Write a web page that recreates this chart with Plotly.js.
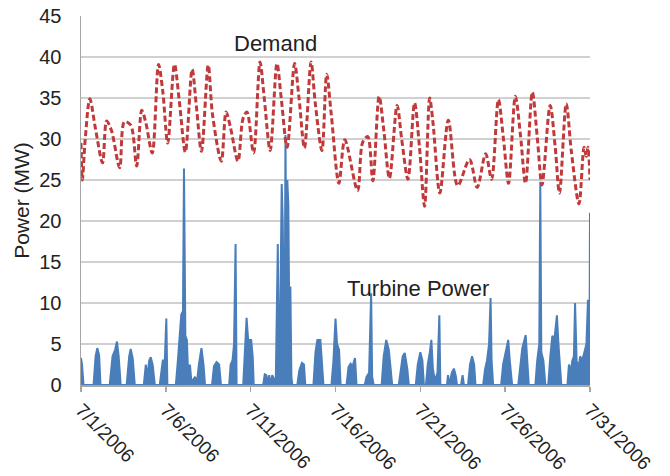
<!DOCTYPE html>
<html>
<head>
<meta charset="utf-8">
<script src="https://cdn.plot.ly/plotly-3.0.1.min.js"></script>
<style>html,body{margin:0;padding:0;background:#fff;}#chart{width:670px;height:476px;}</style>
</head>
<body>
<div id="chart"></div>
<script>
// Days elapsed since 7/1/2006 00:00
const demandDay = [0.00,0.08,0.25,0.52,0.85,1.27,1.51,1.80,2.28,2.56,2.93,3.28,3.58,3.82,4.20,4.57,4.82,5.11,5.51,5.80,6.15,6.55,6.80,7.10,7.50,7.75,8.27,8.55,8.80,9.25,9.55,9.78,10.17,10.55,10.80,11.15,11.55,11.80,12.15,12.59,12.85,13.17,13.56,13.80,14.20,14.48,14.75,15.20,15.55,16.30,16.60,16.90,17.20,17.57,17.85,18.18,18.63,18.90,19.27,19.66,19.95,20.25,20.55,20.75,21.15,21.65,22.20,22.90,23.35,23.85,24.20,24.60,24.90,25.20,25.60,25.90,26.20,26.60,26.90,27.17,27.65,27.95,28.20,28.60,28.90,29.35,29.65,29.78,29.88,30.00];
const demandMW = [29.5,25.0,30.0,34.9,31.3,27.1,32.2,31.0,26.5,32.1,31.7,26.7,33.5,32.0,28.3,39.1,35.8,29.5,39.1,34.5,28.4,38.5,34.0,28.5,39.0,33.0,27.3,33.3,31.5,27.3,32.5,33.3,28.3,39.4,35.0,28.6,39.2,35.0,29.0,39.2,35.0,28.9,39.4,34.5,28.6,37.9,33.0,24.6,29.9,23.7,29.6,30.3,24.9,35.2,31.0,25.2,34.1,30.0,25.1,34.4,29.0,21.8,35.0,31.9,23.4,32.3,24.3,27.5,24.1,28.2,25.1,34.8,30.0,24.6,35.2,30.5,24.6,35.7,30.0,24.4,34.1,29.0,23.4,34.3,28.5,22.1,29.0,27.9,29.0,25.0];

const turbineDay = [0.00,0.06,0.15,0.74,0.86,0.96,1.07,1.15,1.69,1.86,2.01,2.12,2.22,2.34,2.69,2.84,2.93,3.05,3.17,3.70,3.82,3.91,4.02,4.11,4.23,4.35,4.64,4.82,4.94,5.03,5.09,5.59,5.71,5.83,5.91,6.01,6.07,6.15,6.24,6.33,6.42,6.51,6.72,6.83,6.95,7.10,7.22,7.31,7.72,7.84,7.99,8.14,8.25,8.73,8.82,8.93,9.02,9.11,9.17,9.56,9.64,9.76,9.85,10.03,10.12,10.18,10.74,10.83,10.92,11.01,11.09,11.18,11.27,11.36,11.48,11.60,11.66,11.75,11.83,11.89,11.95,12.00,12.05,12.10,12.16,12.22,12.28,12.34,12.40,12.46,12.75,12.87,13.02,13.14,13.22,13.70,13.82,13.93,14.11,14.23,14.29,14.76,14.88,15.00,15.09,15.21,15.30,15.65,15.77,15.89,16.01,16.15,16.24,16.72,16.83,16.98,17.10,17.16,17.25,17.72,17.84,17.99,18.14,18.25,18.34,18.73,18.85,18.96,19.08,19.23,19.32,19.73,19.85,20.00,20.12,20.21,20.33,20.44,20.56,20.65,20.74,20.86,21.01,21.12,21.18,21.57,21.63,21.69,21.86,21.98,22.10,22.16,22.40,22.49,22.57,22.81,22.93,23.05,23.17,23.25,23.70,23.82,23.93,24.05,24.14,24.20,24.29,24.76,24.88,25.03,25.18,25.27,25.41,25.77,25.89,26.01,26.21,26.33,26.39,26.78,26.89,27.01,27.07,27.13,27.25,27.37,27.54,27.66,27.78,27.90,28.05,28.14,28.22,28.31,28.67,28.76,28.85,28.96,29.05,29.12,29.21,29.31,29.42,29.54,29.67,29.79,29.88,29.97,30.00];
const turbineMW = [3.3,2.5,0,0,3.5,4.5,3.6,0,0,3.5,4.3,5.3,3.5,0,0,3.5,4.4,3.2,0,0,2.5,1.0,3.0,3.4,2.4,0,0,3.0,3.0,8.1,0,0,3.0,6.5,8.6,9.0,26.4,6.0,5.5,0.5,2.5,0.3,1.0,0.2,2.5,4.5,2.5,0,0,2.3,2.8,2.5,0,0,2.5,3.0,5.0,17.2,0,0,4.0,8.2,5.5,5.5,3.5,0,0,1.3,1.2,0.2,1.2,0,1.2,0.8,0.5,17.2,3.0,10.0,24.5,20.0,8.0,2.0,30.5,15.0,25.0,22.0,7.0,12.0,1.0,0,0,1.8,2.7,2.5,0,0,4.0,5.5,5.5,2.0,0,0,3.0,8.1,5.0,4.3,0,0,2.2,2.6,2.3,3.3,0,0,1.0,1.5,11.2,1.0,0,0,3.5,5.5,4.3,2.0,0,0,2.0,3.5,3.9,2.0,0,0,2.5,4.0,3.0,0,0,2.5,4.0,5.5,2.0,0.5,1.5,8.5,0,0,1.2,0,1.5,2.0,1.0,0,0,1.2,0,0,2.5,3.5,2.5,0,0,2.0,3.0,5.0,10.6,3.0,0,0,2.5,4.0,5.5,3.0,0,0,2.5,4.5,6.1,2.0,0,0,3.0,5.0,24.8,4.0,3.0,0,0,3.5,6.0,5.5,8.5,5.0,2.0,0,0,2.5,1.5,3.0,3.5,10.0,3.0,2.0,3.5,3.0,4.0,5.0,10.4,4.0,21.0];

const tickDates = ['2006-07-01','2006-07-06','2006-07-11','2006-07-16','2006-07-21','2006-07-26','2006-07-31'];
const tickText = ['7/1/2006','7/6/2006','7/11/2006','7/16/2006','7/21/2006','7/26/2006','7/31/2006'];

const start = Date.UTC(2006, 6, 1);
function toDate(d) {
  return new Date(start + d * 86400000).toISOString().slice(0, 19).replace('T', ' ');
}

const font = 'Liberation Sans, Arial, sans-serif';

const traces = [
  {
    x: turbineDay.map(toDate), y: turbineMW, type: 'scatter', mode: 'lines',
    fill: 'tozeroy', fillcolor: '#4a7ebb',
    line: {color: '#4a7ebb', width: 2}, name: 'Turbine Power'
  },
  {
    x: demandDay.map(toDate), y: demandMW, type: 'scatter', mode: 'lines',
    line: {color: '#c0393b', width: 3, dash: '6px,3px', shape: 'spline', smoothing: 0.9},
    name: 'Demand'
  }
];

const layout = {
  width: 670, height: 476,
  margin: {l: 81, r: 80, t: 16, b: 91},
  showlegend: false,
  paper_bgcolor: '#fff', plot_bgcolor: '#fff',
  font: {family: font, size: 16, color: '#222'},
  xaxis: {
    type: 'date', range: ['2006-07-01', '2006-07-31'],
    tickvals: tickDates, ticktext: tickText, tickangle: 45,
    showgrid: false, zeroline: false,
    showline: true, linecolor: '#a6a6a6', linewidth: 1.5,
    ticks: 'outside', ticklen: 5, tickcolor: '#a6a6a6', tickwidth: 1.5,
    tickfont: {family: font, size: 19, color: '#222'}
  },
  yaxis: {
    range: [0, 45], dtick: 5, tick0: 0,
    showgrid: true, gridcolor: '#d0d0d0', gridwidth: 2,
    zeroline: false, showline: true, linecolor: '#a6a6a6', linewidth: 1.5,
    ticks: '', ticklabelstandoff: 14,
    tickfont: {family: font, size: 20, color: '#222'},
    title: {text: 'Power (MW)', font: {family: font, size: 21, color: '#222'}, standoff: 4}
  },
  annotations: [
    {x: '2006-07-12 11:00', y: 41.7, xref: 'x', yref: 'y', text: 'Demand', showarrow: false,
     font: {family: font, size: 22, color: '#222'}},
    {x: '2006-07-20 20:00', y: 11.8, xref: 'x', yref: 'y', text: 'Turbine Power', showarrow: false,
     font: {family: font, size: 22, color: '#222'}}
  ]
};

Plotly.newPlot('chart', traces, layout, {displayModeBar: false, staticPlot: true});
</script>
</body>
</html>
